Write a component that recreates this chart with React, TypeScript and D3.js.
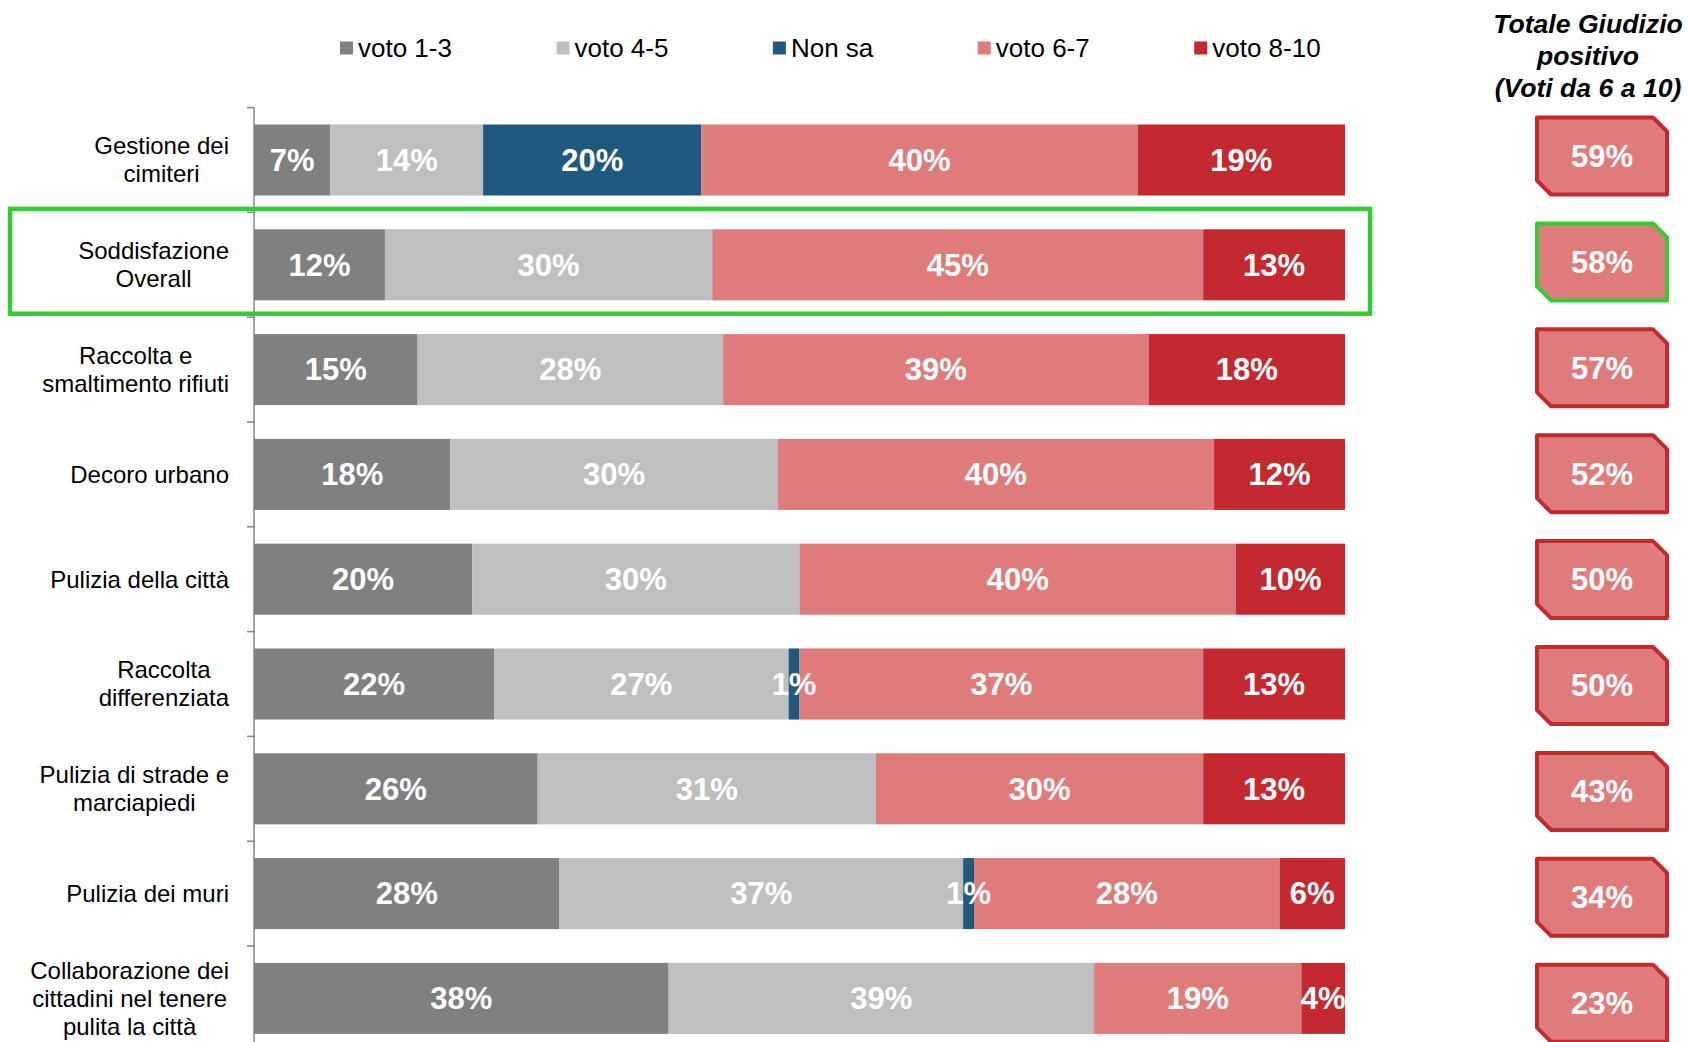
import React from "react";
import * as d3 from "d3";

const categories = [
  "Gestione dei\ncimiteri",
  "Soddisfazione\nOverall",
  "Raccolta e\nsmaltimento rifiuti",
  "Decoro urbano",
  "Pulizia della città",
  "Raccolta\ndifferenziata",
  "Pulizia di strade e\nmarciapiedi",
  "Pulizia dei muri",
  "Collaborazione dei\ncittadini nel tenere\npulita la città",
];

const seriesNames = ["voto 1-3", "voto 4-5", "Non sa", "voto 6-7", "voto 8-10"];
const seriesColors = ["#808080", "#bfbfbf", "#1f5a7e", "#e07b7b", "#c3292e"];

const voto13 = [7, 12, 15, 18, 20, 22, 26, 28, 38];
const voto45 = [14, 30, 28, 30, 30, 27, 31, 37, 39];
const nonSa = [20, 0, 0, 0, 0, 1, 0, 1, 0];
const voto67 = [40, 45, 39, 40, 40, 37, 30, 28, 19];
const voto810 = [19, 13, 18, 12, 10, 13, 13, 6, 4];

const totals = [59, 58, 57, 52, 50, 50, 43, 34, 23];
const highlighted = "Soddisfazione\nOverall";

const titleLines = ["Totale Giudizio", "positivo", "(Voti da 6 a 10)"];

const W = 1688;
const H = 1042;
const FONT = "'Liberation Sans', Arial, sans-serif";

let ctx: CanvasRenderingContext2D | null = null;
function measure(text: string, font: string) {
  if (!ctx) ctx = document.createElement("canvas").getContext("2d");
  if (!ctx) return text.length * 12;
  ctx.font = font;
  return ctx.measureText(text).width;
}

export default function App() {
  React.useEffect(() => {
    document.body.style.margin = "0";
  }, []);

  const series = [voto13, voto45, nonSa, voto67, voto810];
  const rows = categories.map((c, i) => {
    let acc = 0;
    return series.map((s, k) => {
      const v = s[i];
      const seg = { k, v, x0: acc, x1: acc + v, cat: c };
      acc += v;
      return seg;
    });
  });

  const x = d3.scaleLinear().domain([0, 100]).range([254, 1345]);
  const top = 107.6;
  const step = 104.8;
  const y = d3
    .scaleBand<string>()
    .domain(categories)
    .range([top, top + step * categories.length])
    .paddingInner(0.322)
    .paddingOuter(0.161);

  // boxes on the right use their own, slightly wider spacing
  const yBox = d3
    .scalePoint<string>()
    .domain(categories)
    .range([156, 156 + 105.9 * (categories.length - 1)]);

  const legendFont = `26px ${FONT}`;
  const legendPos: number[] = [];
  {
    let lx = 340;
    seriesNames.forEach((n) => {
      legendPos.push(lx);
      lx += 18 + measure(n, legendFont) + 104.5;
    });
  }

  const labelFont = `24px ${FONT}`;
  const labelRight = 229;

  const boxX0 = 1537;
  const boxX1 = 1667;
  const boxH = 77;
  const cut = 14;

  return (
    <svg
      width={W}
      height={H}
      style={{ position: "absolute", left: 0, top: 0, display: "block", background: "#fff" }}
      fontFamily={FONT}
    >
      {/* legend */}
      {seriesNames.map((n, i) => (
        <g key={n} transform={`translate(${legendPos[i]},48)`}>
          <rect x={0} y={-6.5} width={13} height={13} fill={seriesColors[i]} />
          <text x={18} dy="0.35em" fontSize={26} fill="#000">
            {n}
          </text>
        </g>
      ))}

      {/* title right */}
      {titleLines.map((t, i) => (
        <text
          key={t}
          x={1588}
          y={24 + i * 31.7}
          dy="0.35em"
          textAnchor="middle"
          fontSize={26.6}
          fontWeight="bold"
          fontStyle="italic"
          fill="#000"
        >
          {t}
        </text>
      ))}

      {/* bars */}
      {rows.map((segs, i) => (
        <g key={i}>
          {segs
            .filter((s) => s.v > 0)
            .map((s) => (
              <rect
                key={s.k}
                x={x(s.x0)}
                y={y(s.cat)!}
                width={x(s.x1) - x(s.x0)}
                height={y.bandwidth()}
                fill={seriesColors[s.k]}
              />
            ))}
        </g>
      ))}
      {rows.map((segs, i) => (
        <g key={"l" + i}>
          {segs
            .filter((s) => s.v > 0)
            .map((s) => (
              <text
                key={s.k}
                x={(x(s.x0) + x(s.x1)) / 2}
                y={y(s.cat)! + y.bandwidth() / 2}
                dy="0.35em"
                textAnchor="middle"
                fontSize={31}
                fontWeight="bold"
                fill="#fff"
              >
                {`${s.v}%`}
              </text>
            ))}
        </g>
      ))}

      {/* axis */}
      <line x1={254} x2={254} y1={top} y2={H} stroke="#868686" strokeWidth={1.5} />
      {categories.map((c, i) => (
        <line
          key={"t" + i}
          x1={247}
          x2={254}
          y1={top + i * step}
          y2={top + i * step}
          stroke="#868686"
          strokeWidth={1.5}
        />
      ))}

      {/* category labels */}
      {categories.map((c) => {
        const lines = c.split("\n");
        const maxW = d3.max(lines, (l) => measure(l, labelFont)) || 0;
        const cx = labelRight - maxW / 2;
        const cy = y(c)! + y.bandwidth() / 2;
        return (
          <g key={"c" + c}>
            {lines.map((l, j) => (
              <text
                key={j}
                x={cx}
                y={cy + (j - (lines.length - 1) / 2) * 28}
                dy="0.35em"
                textAnchor="middle"
                fontSize={24}
                fill="#000"
              >
                {l}
              </text>
            ))}
          </g>
        );
      })}

      {/* highlight */}
      <rect
        x={10}
        y={y(highlighted)! - y.step() * 0.161 - 3.5}
        width={1360}
        height={step}
        fill="none"
        stroke="#33cc33"
        strokeWidth={4.5}
      />

      {/* totals boxes */}
      {categories.map((c, i) => {
        const cy = yBox(c)!;
        const y0 = cy - boxH / 2;
        const y1 = cy + boxH / 2;
        const p = d3.path();
        p.moveTo(boxX0, y0);
        p.lineTo(boxX1 - cut, y0);
        p.lineTo(boxX1, y0 + cut);
        p.lineTo(boxX1, y1);
        p.lineTo(boxX0 + cut, y1);
        p.lineTo(boxX0, y1 - cut);
        p.closePath();
        return (
          <g key={"b" + i}>
            <path
              d={p.toString()}
              fill="#e07b7b"
              stroke={c === highlighted ? "#33cc33" : "#c3292e"}
              strokeWidth={4}
              strokeLinejoin="round"
            />
            <text
              x={(boxX0 + boxX1) / 2}
              y={cy}
              dy="0.35em"
              textAnchor="middle"
              fontSize={31}
              fontWeight="bold"
              fill="#fff"
            >
              {`${totals[i]}%`}
            </text>
          </g>
        );
      })}
    </svg>
  );
}
